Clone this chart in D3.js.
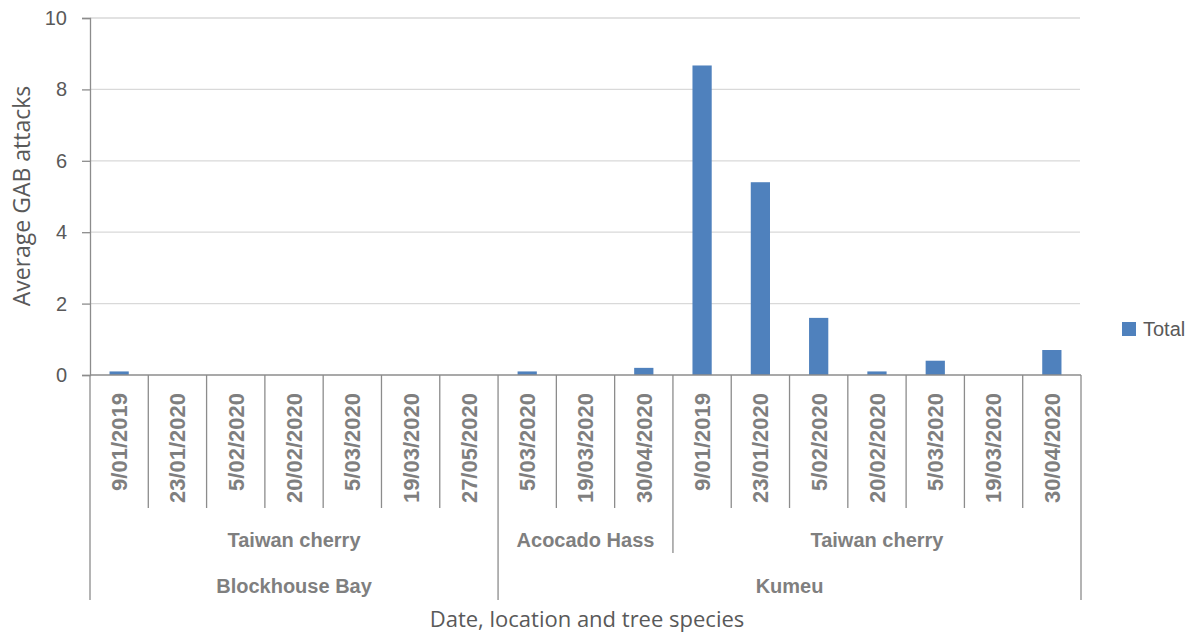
<!DOCTYPE html>
<html>
<head>
<meta charset="utf-8">
<script src="https://cdn.jsdelivr.net/npm/d3@7"></script>
<style>
  html, body { margin: 0; padding: 0; background: #ffffff; }
  svg { display: block; }
</style>
</head>
<body>
<svg id="chart" width="1195" height="633"></svg>
<script>
// Sampling dates, with the tree species and location each belongs to
const dates = ["9/01/2019", "23/01/2020", "5/02/2020", "20/02/2020", "5/03/2020", "19/03/2020", "27/05/2020",
               "5/03/2020", "19/03/2020", "30/04/2020",
               "9/01/2019", "23/01/2020", "5/02/2020", "20/02/2020", "5/03/2020", "19/03/2020", "30/04/2020"];
const species = ["Taiwan cherry", "Taiwan cherry", "Taiwan cherry", "Taiwan cherry", "Taiwan cherry", "Taiwan cherry", "Taiwan cherry",
                 "Acocado Hass", "Acocado Hass", "Acocado Hass",
                 "Taiwan cherry", "Taiwan cherry", "Taiwan cherry", "Taiwan cherry", "Taiwan cherry", "Taiwan cherry", "Taiwan cherry"];
const locations = ["Blockhouse Bay", "Blockhouse Bay", "Blockhouse Bay", "Blockhouse Bay", "Blockhouse Bay", "Blockhouse Bay", "Blockhouse Bay",
                   "Kumeu", "Kumeu", "Kumeu",
                   "Kumeu", "Kumeu", "Kumeu", "Kumeu", "Kumeu", "Kumeu", "Kumeu"];
// Average GAB attacks ("Total" series)
const totals = [0.1, 0, 0, 0, 0, 0, 0,
                0.1, 0, 0.2,
                8.67, 5.4, 1.6, 0.1, 0.4, 0, 0.7];
const yTicks = [0, 2, 4, 6, 8, 10];
const seriesName = "Total";

const svg = d3.select("#chart");
const plotLeft = 90, plotRight = 1081, plotTop = 18, plotBase = 375;
const regFont = "'Liberation Sans', Arial, sans-serif";
const titleFont = "'Open Sans', 'Liberation Sans', sans-serif";
const textColor = "#595959";
const boldColor = "#7f7f7f";
const axisColor = "#8c8c8c";

const idx = dates.map((d, i) => i);
const x = d3.scaleBand().domain(idx).range([plotLeft, plotRight]).padding(0);
const y = d3.scaleLinear().domain([0, 10]).range([plotBase, plotTop]);

// Horizontal gridlines
svg.append("g")
  .selectAll("line")
  .data(yTicks.filter(t => t > 0))
  .join("line")
  .attr("x1", plotLeft).attr("x2", plotRight - 1)
  .attr("y1", d => y(d)).attr("y2", d => y(d))
  .attr("stroke", "#d9d9d9").attr("stroke-width", 1.3);

// Bars
const barW = x.bandwidth() * 0.33;
svg.append("g")
  .selectAll("rect")
  .data(totals)
  .join("rect")
  .attr("x", (d, i) => x(i) + (x.bandwidth() - barW) / 2)
  .attr("width", barW)
  .attr("y", d => y(d))
  .attr("height", d => plotBase - y(d))
  .attr("fill", "#4f81bd");

// Y axis
const yAxis = svg.append("g")
  .attr("transform", `translate(${plotLeft},0)`)
  .call(d3.axisLeft(y).tickValues(yTicks).tickSize(8).tickPadding(15).tickFormat(d3.format("d")));
yAxis.select(".domain").attr("stroke", axisColor).attr("stroke-width", 1.3);
yAxis.selectAll(".tick line").attr("stroke", axisColor).attr("stroke-width", 1.3);
yAxis.selectAll(".tick text")
  .attr("font-family", regFont).attr("font-size", 20).attr("fill", textColor);

// Baseline of the category axis
svg.append("line")
  .attr("x1", plotLeft).attr("x2", plotRight)
  .attr("y1", plotBase).attr("y2", plotBase)
  .attr("stroke", axisColor).attr("stroke-width", 1.3);

// Multi-level category axis: boundary lines sized by the level at which the group changes
const tierBottom = [508, 553, 600];
const boundaries = d3.range(dates.length + 1).map(i => {
  let level = 0;
  if (i === 0 || i === dates.length || locations[i] !== locations[i - 1]) level = 2;
  else if (species[i] !== species[i - 1]) level = 1;
  return { pos: i === dates.length ? plotRight : x(i), level };
});
svg.append("g")
  .selectAll("line")
  .data(boundaries)
  .join("line")
  .attr("x1", d => d.pos).attr("x2", d => d.pos)
  .attr("y1", plotBase).attr("y2", d => tierBottom[d.level])
  .attr("stroke", axisColor).attr("stroke-width", 1.3);

// Date labels (rotated)
svg.append("g")
  .selectAll("text")
  .data(dates)
  .join("text")
  .attr("transform", (d, i) => `translate(${x(i) + x.bandwidth() / 2},393) rotate(-90)`)
  .attr("text-anchor", "end")
  .attr("dy", "0.36em")
  .attr("font-family", regFont).attr("font-weight", "bold")
  .attr("font-size", 22).attr("fill", boldColor)
  .text(d => d);

// Group consecutive runs of a label array
function runs(arr, keyFn) {
  const out = [];
  arr.forEach((v, i) => {
    const k = keyFn(i);
    if (out.length && out[out.length - 1].key === k) out[out.length - 1].end = i;
    else out.push({ key: k, label: v, start: i, end: i });
  });
  return out;
}
const speciesRuns = runs(species, i => locations[i] + "|" + species[i]);
const locationRuns = runs(locations, i => locations[i]);

function spanCenter(r) {
  const x0 = x(r.start);
  const x1 = r.end === dates.length - 1 ? plotRight : x(r.end + 1);
  return (x0 + x1) / 2;
}

svg.append("g")
  .selectAll("text")
  .data(speciesRuns)
  .join("text")
  .attr("x", spanCenter).attr("y", 540)
  .attr("dy", "0.36em").attr("text-anchor", "middle")
  .attr("font-family", regFont).attr("font-weight", "bold")
  .attr("font-size", 20).attr("fill", boldColor)
  .text(d => d.label);

svg.append("g")
  .selectAll("text")
  .data(locationRuns)
  .join("text")
  .attr("x", spanCenter).attr("y", 586)
  .attr("dy", "0.36em").attr("text-anchor", "middle")
  .attr("font-family", regFont).attr("font-weight", "bold")
  .attr("font-size", 20).attr("fill", boldColor)
  .text(d => d.label);

// Axis titles
svg.append("text")
  .attr("x", 587).attr("y", 619).attr("dy", "0.36em")
  .attr("text-anchor", "middle")
  .attr("font-family", titleFont).attr("font-size", 22).attr("fill", textColor)
  .text("Date, location and tree species");

svg.append("text")
  .attr("transform", "translate(22,196) rotate(-90)")
  .attr("dy", "0.36em").attr("text-anchor", "middle")
  .attr("font-family", titleFont).attr("font-size", 23).attr("fill", textColor)
  .text("Average GAB attacks");

// Legend
const legend = svg.append("g").attr("transform", "translate(1122,329)");
legend.append("rect").attr("x", 0).attr("y", -7).attr("width", 14).attr("height", 14).attr("fill", "#4f81bd");
legend.append("text").attr("x", 21).attr("y", 0).attr("dy", "0.36em")
  .attr("font-family", regFont).attr("font-size", 20).attr("fill", textColor)
  .text(seriesName);
</script>
</body>
</html>
